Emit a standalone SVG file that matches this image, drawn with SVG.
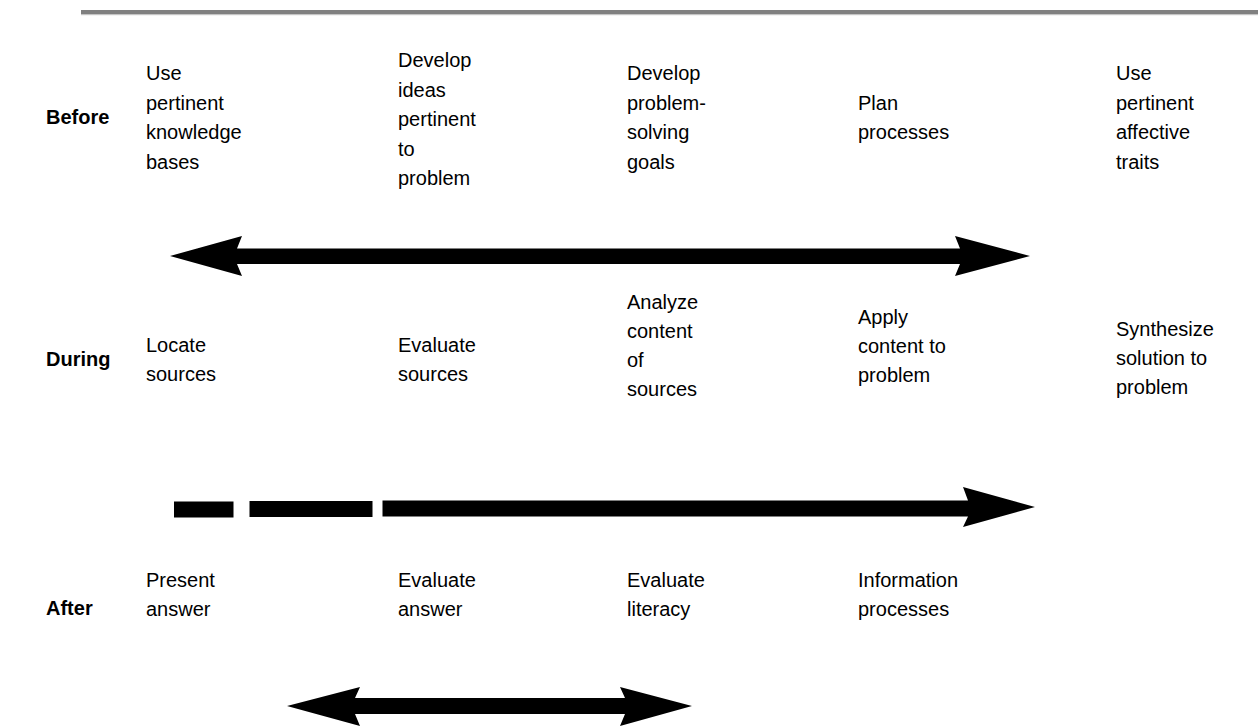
<svg xmlns="http://www.w3.org/2000/svg" width="1258" height="728" viewBox="0 0 1258 728">
<style>
text{font-family:"Liberation Sans",Arial,sans-serif;font-size:20px;fill:#000}
.lbl{font-weight:bold}
.arr{fill:#000}
</style>
<rect x="0" y="0" width="1258" height="728" fill="#fff"/>
<g id="topbar">
<rect x="81" y="10" width="1177" height="4" fill="#808080"/>
<rect x="81" y="14" width="1177" height="1.2" fill="#c4c4c4"/>
</g>
<g id="row-labels">
<text class="lbl" x="46" y="124">Before</text>
<text class="lbl" x="46" y="366">During</text>
<text class="lbl" x="46" y="615">After</text>
</g>
<g id="before-1"><text x="146" y="80">Use</text><text x="146" y="109.5">pertinent</text><text x="146" y="139">knowledge</text><text x="146" y="168.5">bases</text></g>
<g id="before-2"><text x="398" y="67">Develop</text><text x="398" y="96.5">ideas</text><text x="398" y="126">pertinent</text><text x="398" y="155.5">to</text><text x="398" y="185">problem</text></g>
<g id="before-3"><text x="627" y="80">Develop</text><text x="627" y="109.5">problem-</text><text x="627" y="139">solving</text><text x="627" y="168.5">goals</text></g>
<g id="before-4"><text x="858" y="109.5">Plan</text><text x="858" y="139">processes</text></g>
<g id="before-5"><text x="1116" y="80">Use</text><text x="1116" y="109.5">pertinent</text><text x="1116" y="139">affective</text><text x="1116" y="168.5">traits</text></g>
<g id="during-1"><text x="146" y="352">Locate</text><text x="146" y="381">sources</text></g>
<g id="during-2"><text x="398" y="352">Evaluate</text><text x="398" y="381">sources</text></g>
<g id="during-3"><text x="627" y="309">Analyze</text><text x="627" y="338">content</text><text x="627" y="367">of</text><text x="627" y="396">sources</text></g>
<g id="during-4"><text x="858" y="324">Apply</text><text x="858" y="353">content to</text><text x="858" y="382">problem</text></g>
<g id="during-5"><text x="1116" y="336">Synthesize</text><text x="1116" y="365">solution to</text><text x="1116" y="394">problem</text></g>
<g id="after-1"><text x="146" y="587">Present</text><text x="146" y="616">answer</text></g>
<g id="after-2"><text x="398" y="587">Evaluate</text><text x="398" y="616">answer</text></g>
<g id="after-3"><text x="627" y="587">Evaluate</text><text x="627" y="616">literacy</text></g>
<g id="after-4"><text x="858" y="587">Information</text><text x="858" y="616">processes</text></g>
<g id="connectors">
<polygon class="arr" points="170,256 242,236 237,248.5 960,248.5 955,236 1030,256 955,276 960,264 237,264 242,276"/>
<rect class="arr" x="174" y="501.5" width="59.5" height="16"/>
<rect class="arr" x="249.5" y="501" width="123" height="16"/>
<polygon class="arr" points="382.5,500.5 968,500.5 963,487 1035,507 963,527 968,516.5 382.5,516.5"/>
<polygon class="arr" points="287,706 360,687 355,698 625,698 620,687 692,706 620,726 625,714 355,714 360,726"/>
</g>
</svg>
